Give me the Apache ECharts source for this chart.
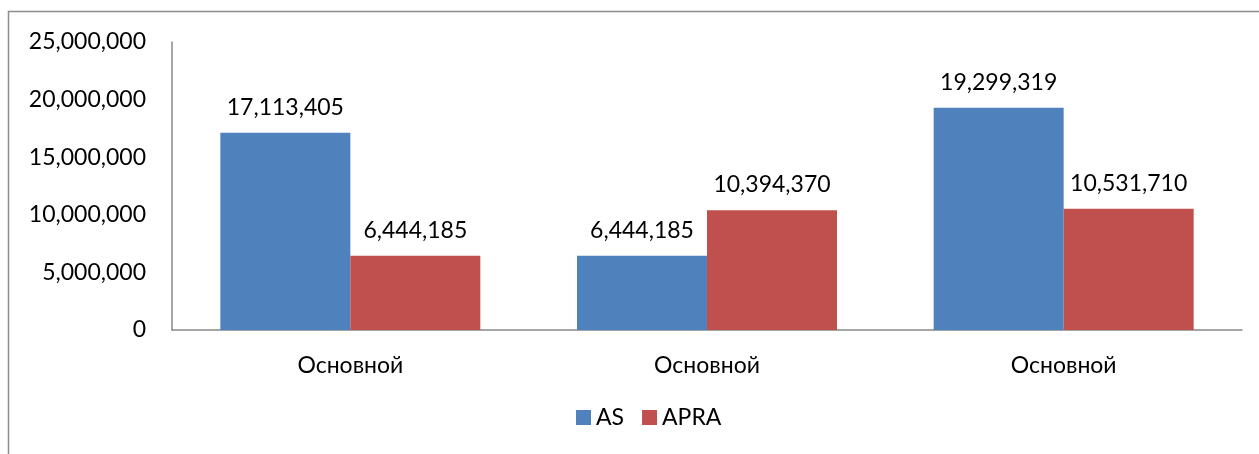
<!DOCTYPE html>
<html>
<head>
<meta charset="utf-8">
<script src="https://cdn.jsdelivr.net/npm/echarts@6/dist/echarts.min.js"></script>
<style>
  html, body { margin: 0; padding: 0; background: #fff; }
  #main { width: 1259px; height: 454px; }
</style>
</head>
<body>
<div id="main"></div>
<script>
var categories = ['Основной', 'Основной', 'Основной'];
var asValues = [17113405, 6444185, 19299319];
var apraValues = [6444185, 10394370, 10531710];
var seriesNames = ['AS', 'APRA'];

var font = 'Lato, "Open Sans", sans-serif';
var fs = 23;
function fmt(v) {
    return String(v).replace(/\B(?=(\d{3})+(?!\d))/g, ',');
}

var chart = echarts.init(document.getElementById('main'));
var option = {
    animation: false,
    color: ['#4F81BD', '#C0504D'],
    textStyle: { fontFamily: font },
    graphic: [{
        type: 'rect',
        shape: { x: 8.5, y: 11.5, width: 1300, height: 500 },
        style: { fill: 'none', stroke: '#8c8c8c', lineWidth: 1.5 },
        silent: true
    }],
    grid: { left: 172, right: 17, top: 42, bottom: 124 },
    legend: {
        bottom: 20,
        left: 571,
        itemWidth: 15,
        itemHeight: 15,
        itemGap: 18,
        icon: 'rect',
        textStyle: { fontSize: fs, color: '#000', fontFamily: font }
    },
    xAxis: {
        type: 'category',
        data: categories,
        axisLine: { lineStyle: { color: '#888', width: 1.5 } },
        axisTick: { show: false },
        axisLabel: { fontSize: fs, color: '#000', margin: 24, fontFamily: font }
    },
    yAxis: {
        type: 'value',
        min: 0,
        max: 25000000,
        interval: 5000000,
        axisLine: { show: true, lineStyle: { color: '#888', width: 1.5 } },
        axisTick: { show: false },
        splitLine: { show: false },
        axisLabel: { fontSize: fs, color: '#000', margin: 26, fontFamily: font, formatter: fmt }
    },
    series: [{
        name: seriesNames[0],
        type: 'bar',
        data: asValues,
        barWidth: 130,
        barGap: '0%',
        label: { show: true, position: 'top', distance: 14, fontSize: fs, color: '#000', fontFamily: font, formatter: function (p) { return fmt(p.value); } }
    }, {
        name: seriesNames[1],
        type: 'bar',
        data: apraValues,
        barWidth: 130,
        barGap: '0%',
        label: { show: true, position: 'top', distance: 14, fontSize: fs, color: '#000', fontFamily: font, formatter: function (p) { return fmt(p.value); } }
    }]
};
chart.setOption(option);
</script>
</body>
</html>
